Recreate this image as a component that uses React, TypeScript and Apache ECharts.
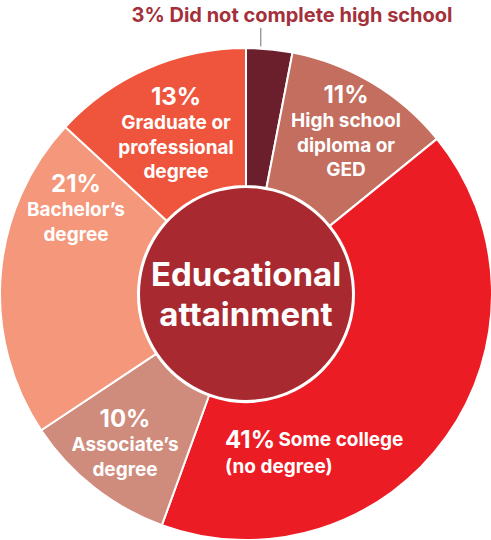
import React, { useEffect, useRef } from "react";
import * as echarts from "echarts";

const categories = [
  "Did not complete high school",
  "High school\ndiploma or\nGED",
  "Some college\n(no degree)",
  "Associate’s\ndegree",
  "Bachelor’s\ndegree",
  "Graduate or\nprofessional\ndegree",
];
const values = [3, 11, 41, 10, 21, 13];
const colors = ["#6B1F2C", "#C36E5E", "#EC1C24", "#CF8B7C", "#F4977A", "#EF553C"];
const centerTitle = "Educational\nattainment";

// label anchor positions (px) for each slice label
const labelPos = [
  { x: 292, y: 15, align: "center" },
  { x: 346, y: 131, align: "center" },
  { x: 225, y: 452, align: "left" },
  { x: 125, y: 443, align: "center" },
  { x: 76, y: 208, align: "center" },
  { x: 176, y: 133, align: "center" },
];

const CX = 246;
const CY = 294;
const R_OUT = 246;
const R_IN = 108;

const FONT = "Inter, 'Open Sans', sans-serif";

export default function App() {
  const ref = useRef<HTMLDivElement>(null);
  useEffect(() => {
    const chart = echarts.init(ref.current!, null, { renderer: "svg" });
    const total = values.reduce((a, b) => a + b, 0);
    const data = categories.map((name, i) => {
      const isTop = i === 0;
      const isLeft = i === 2;
      let formatter: string;
      if (isTop) formatter = `{top|${values[i]}% ${name}}`;
      else if (isLeft) {
        const [a, b] = name.split("\n");
        formatter = `{pct|${values[i]}%} {txt|${a}}\n{txt|${b}}`;
      } else formatter = `{pct|${values[i]}%}\n{txt|${name}}`;
      return {
        name,
        value: values[i],
        itemStyle: { color: colors[i] },
        label: {
          position: isTop ? "outside" : "inside",
          formatter,
          align: labelPos[i].align,
        },
        labelLine: isTop
          ? { show: true, length: 8, length2: 0, lineStyle: { color: "#6f6f6f", width: 1 } }
          : { show: false },
      };
    });
    chart.setOption({
      animation: false,
      series: [
        {
          type: "pie",
          center: [CX, CY],
          radius: [R_IN, R_OUT],
          startAngle: 90,
          clockwise: true,
          avoidLabelOverlap: false,
          silent: true,
          itemStyle: { borderColor: "#ffffff", borderWidth: 2 },
          label: {
            show: true,
            fontFamily: FONT,
            color: "#ffffff",
            rich: {
              pct: { fontSize: 24, fontWeight: 700, color: "#ffffff", fontFamily: FONT, lineHeight: 28 },
              txt: { fontSize: 19, fontWeight: 700, color: "#ffffff", fontFamily: FONT, lineHeight: 24.5 },
              top: { fontSize: 20, fontWeight: 700, color: "#A3303A", fontFamily: FONT, lineHeight: 24 },
            },
          },
          labelLayout: (params: any) => {
            const i = params.dataIndex;
            const p = labelPos[i];
            const out: any = { x: p.x, y: p.y, align: p.align, verticalAlign: "middle" };
            if (i === 0) {
              let cum = 0;
              for (let k = 0; k < i; k++) cum += values[k];
              const mid = ((cum + values[i] / 2) / total) * Math.PI * 2 - 0.035;
              const ax = CX + R_OUT * Math.sin(mid);
              const ay = CY - R_OUT * Math.cos(mid) - 2;
              const top = p.y + 13;
              out.labelLinePoints = [
                [ax, ay],
                [ax, top],
                [ax, top],
              ];
            }
            return out;
          },
          data,
        },
        {
          type: "pie",
          center: [CX, CY],
          radius: [0, R_IN - 2],
          silent: true,
          itemStyle: { color: "#A82A30" },
          label: {
            show: true,
            position: "center",
            formatter: centerTitle,
            fontFamily: FONT,
            fontSize: 33,
            fontWeight: 700,
            color: "#ffffff",
            lineHeight: 40,
          },
          labelLine: { show: false },
          data: [{ name: "center", value: 1 }],
        },
      ],
    });
    return () => chart.dispose();
  }, []);
  return (
    <div
      ref={ref}
      style={{ position: "fixed", left: 0, top: 0, width: 491, height: 540, background: "#fff" }}
    />
  );
}
